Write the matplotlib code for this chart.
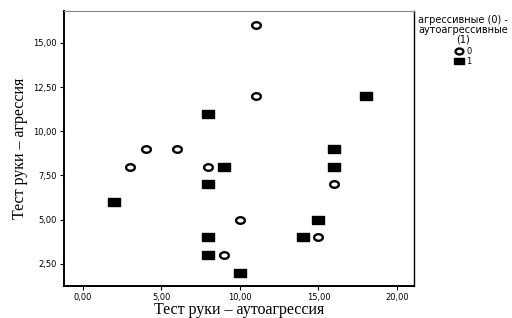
import numpy as np
import matplotlib.pyplot as plt
from matplotlib.ticker import FuncFormatter

# group 0 - агрессивные (open circles)
x0 = [11, 11, 4, 6, 3, 8, 16, 10, 15, 9]
y0 = [16, 12, 9, 9, 8, 8, 7, 5, 4, 3]
# group 1 - аутоагрессивные (filled squares)
x1 = [8, 18, 16, 9, 16, 8, 2, 15, 14, 8, 8, 10]
y1 = [11, 12, 9, 8, 8, 7, 6, 5, 4, 4, 3, 2]

xticks = [0, 5, 10, 15, 20]
yticks = [2.5, 5, 7.5, 10, 12.5, 15]

# slightly flattened markers like the SPSS output
t = np.linspace(0, 2 * np.pi, 40)
ring = list(zip(np.cos(t), 0.75 * np.sin(t)))
rect = [(-1, -0.68), (1, -0.68), (1, 0.68), (-1, 0.68), (-1, -0.68)]

fig = plt.figure(figsize=(5.12, 3.18), dpi=100)
ax = fig.add_axes([0.125, 0.1006, 0.684, 0.865])

ax.plot(x0, y0, linestyle='none', marker=ring, markersize=6.3, markerfacecolor='white',
        markeredgecolor='black', markeredgewidth=1.7, label='0')
ax.plot(x1, y1, linestyle='none', marker=rect, markersize=8, color='black', label='1')

ax.set_xlim(-1.2, 21.1)
ax.set_ylim(1.25, 16.8)
ax.set_xticks(xticks)
ax.set_yticks(yticks)
fmt = FuncFormatter(lambda v, p: f'{v:.2f}'.replace('.', ','))
ax.xaxis.set_major_formatter(fmt)
ax.yaxis.set_major_formatter(fmt)
ax.tick_params(labelsize=6, length=3, width=0.8, direction='out', pad=2)

ax.spines['left'].set_linewidth(1.4)
ax.spines['bottom'].set_linewidth(1.4)
ax.spines['right'].set_linewidth(1.0)
ax.spines['top'].set_color('#888888')

ax.set_xlabel('Тест руки – аутоагрессия', family='Liberation Serif', fontsize=11.5, labelpad=0)
ax.set_ylabel('Тест руки – агрессия', family='Liberation Serif', fontsize=11.5, labelpad=4)

leg = ax.legend(title='агрессивные (0) -\nаутоагрессивные\n(1)', loc='upper left',
                bbox_to_anchor=(1.0, 1.0), frameon=False, fontsize=6,
                title_fontsize=7, handletextpad=0.3, handlelength=1.0,
                borderaxespad=0.1, labelspacing=0.05, markerscale=0.9)
leg._legend_box.align = 'center'
leg._legend_box.sep = 2
leg.get_title().set_multialignment('center')
leg.get_title().set_linespacing(0.95)

fig.savefig('out.png', dpi=100)
